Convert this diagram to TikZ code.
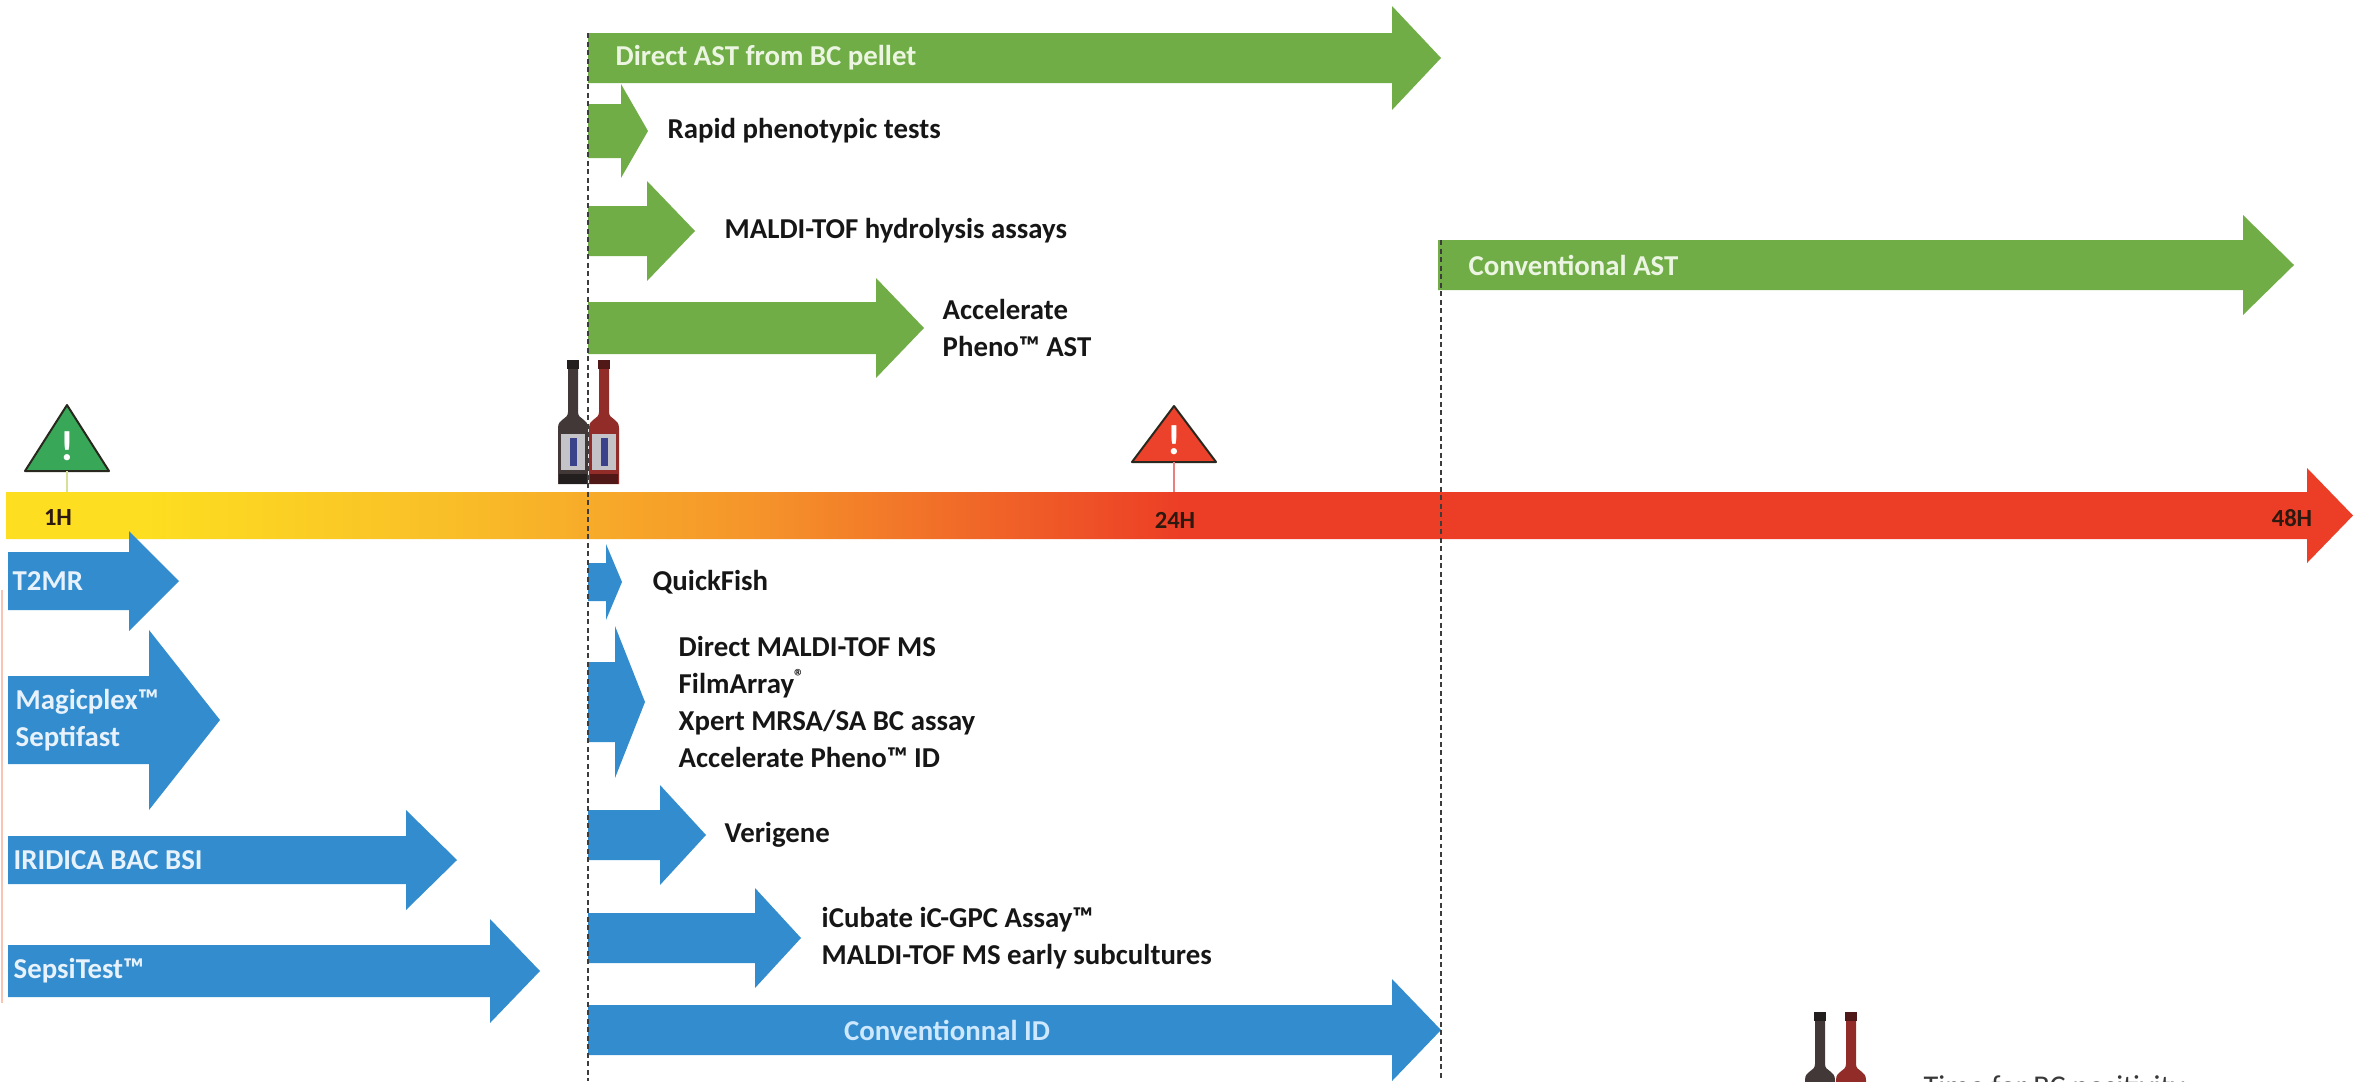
\documentclass[tikz,border=0pt]{standalone}
\usepackage{fontspec}
\setmainfont{Carlito}
\usepackage{xcolor}
\usepackage{tikz}
\usetikzlibrary{positioning}

\definecolor{astgreen}{RGB}{112,173,71}
\definecolor{idblue}{RGB}{50,140,205}
\definecolor{greentext}{RGB}{236,245,226}
\definecolor{bluetext}{RGB}{232,242,252}
\definecolor{idtext}{RGB}{205,232,255}
\definecolor{inktext}{RGB}{22,22,22}
\definecolor{hourtext}{RGB}{45,25,15}
\definecolor{guidegrey}{RGB}{60,60,60}
\definecolor{axisyellow}{RGB}{253,222,32}
\definecolor{axisamber}{RGB}{249,190,40}
\definecolor{axisorange}{RGB}{245,148,42}
\definecolor{axisvermilion}{RGB}{240,100,40}
\definecolor{axisred}{RGB}{236,62,38}
\definecolor{warngreen}{RGB}{56,168,88}
\definecolor{warnred}{RGB}{236,66,44}
\definecolor{warnedge}{RGB}{40,40,30}
\definecolor{tickgreen}{RGB}{214,224,150}
\definecolor{tickred}{RGB}{232,128,128}
\definecolor{glassdark}{RGB}{66,56,56}
\definecolor{glassred}{RGB}{146,44,40}
\definecolor{labelgrey}{RGB}{196,196,200}
\definecolor{labelblue}{RGB}{58,66,140}
\definecolor{edgesalmon}{RGB}{250,196,180}

\pgfdeclarehorizontalshading{timeaxis}{100bp}{%
  color(0bp)=(axisyellow); color(28bp)=(axisyellow);
  color(34.5bp)=(axisamber); color(41bp)=(axisorange); color(46bp)=(axisvermilion);
  color(50bp)=(axisred); color(100bp)=(axisred)}

% block arrow: style, name, left x, tip x, centre y, shaft half, head half, head length
\newcommand{\blockarrow}[8]{%
  \path[#1] (#3,#5-#6) -- (#4-#8,#5-#6) -- (#4-#8,#5-#7) -- (#4,#5)
    -- (#4-#8,#5+#7) -- (#4-#8,#5+#6) -- (#3,#5+#6) -- cycle;
  \coordinate (#2) at (#3,#5);
  \coordinate (#2-tip) at (#4,#5);
}

% warning sign: name, apex x, apex y, base y, half base, fill
\newcommand{\warnsign}[6]{%
  \draw[warnbox, fill=#6] (#2-#5,#4) -- (#2,#3) -- (#2+#5,#4) -- cycle;
  \node[bang] (#1) at (#2,#4*0.62+#3*0.38) {!};
  \coordinate (#1-base) at (#2,#4);
}

% culture bottle: centre x, top y, glass colour
\newcommand{\bcbottle}[3]{%
  \fill[#3] (#1-5,#2+5) -- (#1-5,#2+52)
    .. controls (#1-5,#2+60) and (#1-15,#2+58) .. (#1-15,#2+68)
    -- (#1-15,#2+124) -- (#1+15,#2+124) -- (#1+15,#2+68)
    .. controls (#1+15,#2+58) and (#1+5,#2+60) .. (#1+5,#2+52)
    -- (#1+5,#2+5) -- cycle;
  \fill[#3!55!black] (#1-6,#2) rectangle (#1+6,#2+9);
  \fill[labelgrey] (#1-12,#2+74) rectangle (#1+12,#2+110);
  \fill[labelblue] (#1-3,#2+78) rectangle (#1+4,#2+106);
  \fill[#3!55!black] (#1-14,#2+114) rectangle (#1+14,#2+124);
}

\begin{document}
\begin{tikzpicture}[
    x = 0.1mm, y = -0.1mm,
    every node/.style = {inner sep=0pt},
    inlabel/.style    = {font=\bfseries\fontsize{8.2}{10.6}\selectfont, anchor=west, align=left},
    outlabel/.style   = {font=\bfseries\fontsize{8.2}{10.6}\selectfont, text=inktext, align=left},
    hour/.style       = {font=\bfseries\fontsize{7}{8}\selectfont, text=hourtext},
    warnbox/.style    = {draw=warnedge, line width=0.2mm, line join=round},
    bang/.style       = {text=white, font=\bfseries\fontsize{12}{12}\selectfont},
    guide/.style      = {draw=guidegrey, line width=0.15mm, dash pattern=on 0.5mm off 0.35mm},
    tick/.style       = {line width=0.25mm}
  ]
\useasboundingbox (0,0) rectangle (2356,1081);
\clip (0,0) rectangle (2356,1081);

% time axis
\blockarrow{shade, shading=timeaxis}{axis}{6}{2353}{515.5}{23.5}{47.5}{46}
\node[hour] (h1) at (58,518) {1H};
\node[hour] (h24) at (1175,520) {24H};
\node[hour] (h48) at (2292,518) {48H};

\warnsign{warn1}{67}{405}{471}{42}{warngreen}
\warnsign{warn24}{1174}{406}{462}{42}{warnred}
\coordinate (t1) at (67,492);
\coordinate (t24) at (1174,492);
\draw[tick, draw=tickgreen] (warn1-base) -- (t1);
\draw[tick, draw=tickred] (warn24-base) -- (t24);

\bcbottle{573}{360}{glassdark}
\bcbottle{604}{360}{glassred}
\bcbottle{1820}{1012}{glassdark}
\bcbottle{1851}{1012}{glassred}
\node[anchor=north west, font=\fontsize{8.6}{10}\selectfont, text=inktext!85!white] (bcnote) at (1923,1075) {Time for BC positivity};

\draw[edgesalmon, line width=0.3mm] (2,590) -- (2,1003);

% susceptibility
\blockarrow{fill=astgreen}{dast}{588}{1441}{58}{25}{52}{49}
\blockarrow{fill=astgreen}{rapid}{588}{648}{131}{27}{47}{27}
\blockarrow{fill=astgreen}{hydro}{588}{695}{231}{25}{50}{48}
\blockarrow{fill=astgreen}{accast}{588}{924}{328}{26}{50}{48}
\blockarrow{fill=astgreen}{convast}{1438}{2294}{265}{25}{50}{51}

\node[inlabel, text=greentext, right=2.7mm of dast] (dast-lbl) {Direct AST from BC pellet};
\node[outlabel, right=1.9mm of rapid-tip] (rapid-lbl) {Rapid phenotypic tests};
\node[outlabel, right=2.9mm of hydro-tip] (hydro-lbl) {MALDI-TOF hydrolysis assays};
\node[outlabel, right=1.8mm of accast-tip] (accast-lbl) {Accelerate\\Pheno™ AST};
\node[inlabel, text=greentext, right=3mm of convast] (convast-lbl) {Conventional AST};

% identification
\blockarrow{fill=idblue}{t2mr}{8}{179}{581}{29}{50}{50}
\blockarrow{fill=idblue}{magic}{8}{220}{720}{44}{90}{71}
\blockarrow{fill=idblue}{iridica}{8}{457}{860}{24}{50}{51}
\blockarrow{fill=idblue}{sepsi}{8}{540}{971}{26}{52}{50}
\blockarrow{fill=idblue}{qfish}{588}{622}{582}{19}{38}{16}
\blockarrow{fill=idblue}{dmaldi}{588}{645}{702}{40}{76}{30}
\blockarrow{fill=idblue}{verigene}{588}{706}{835}{25}{50}{46}
\blockarrow{fill=idblue}{icubate}{588}{801}{938}{25}{50}{46}
\blockarrow{fill=idblue}{convid}{588}{1441}{1030}{25}{51}{49}

\node[inlabel, text=bluetext, right=0.4mm of t2mr] (t2mr-lbl) {T2MR};
\node[inlabel, text=bluetext, right=0.7mm of magic] (magic-lbl) {Magicplex™\\Septifast};
\node[inlabel, text=bluetext, right=0.5mm of iridica] (iridica-lbl) {IRIDICA BAC BSI};
\node[inlabel, text=bluetext, right=0.5mm of sepsi] (sepsi-lbl) {SepsiTest™};
\node[outlabel, right=3mm of qfish-tip] (qfish-lbl) {QuickFish};
\node[outlabel, right=3.3mm of dmaldi-tip] (dmaldi-lbl) {Direct MALDI-TOF MS\\FilmArray\textsuperscript{®}\\Xpert MRSA/SA BC assay\\Accelerate Pheno™ ID};
\node[outlabel, right=1.8mm of verigene-tip] (verigene-lbl) {Verigene};
\node[outlabel, right=2mm of icubate-tip] (icubate-lbl) {iCubate iC-GPC Assay™\\MALDI-TOF MS early subcultures};
\node[inlabel, anchor=center, text=idtext] (convid-lbl) at (947,1030) {Conventionnal ID};

% blood culture positivity and conventional AST start
\coordinate (bc-top) at (588,33);
\coordinate (bc-end) at (588,1081);
\coordinate (ast-top) at (1441,240);
\coordinate (ast-end) at (1441,1081);
\draw[guide] (bc-top) -- (bc-end);
\draw[guide] (ast-top) -- (ast-end);
\end{tikzpicture}
\end{document}
